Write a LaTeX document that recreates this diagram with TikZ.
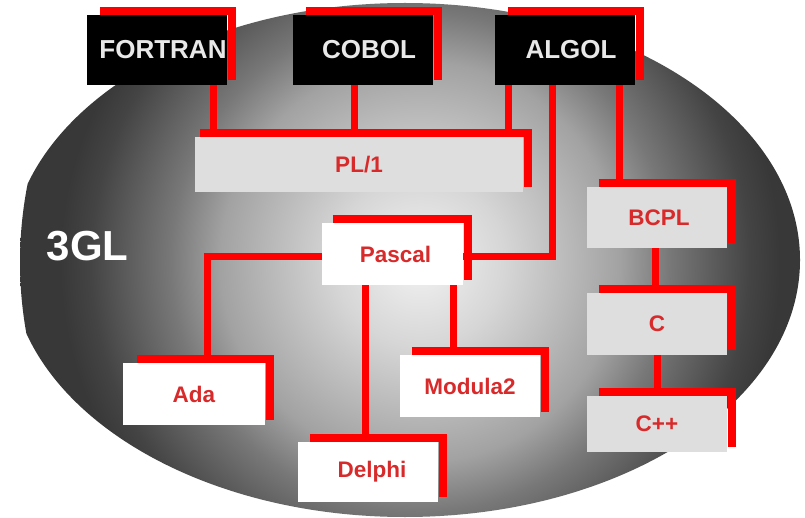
\documentclass[tikz,border=0pt]{standalone}
\usepackage{fontspec}
\setmainfont{Liberation Sans}
\definecolor{s0}{HTML}{F2F2F2}
\definecolor{s1}{HTML}{D6D6D6}
\definecolor{s2}{HTML}{A2A2A2}
\definecolor{s3}{HTML}{787878}
\definecolor{s4}{HTML}{444444}
\definecolor{s5}{HTML}{383838}
\definecolor{txtred}{HTML}{D82A2A}
\definecolor{toptxt}{HTML}{E8E8E8}
\definecolor{boxgray}{HTML}{DEDEDE}
\definecolor{linered}{HTML}{FF0000}
\pgfdeclareradialshading{ballshade}{\pgfpointorigin}{color(0bp)=(s0); color(5.3bp)=(s1); color(12.5bp)=(s2); color(15.6bp)=(s3); color(20.6bp)=(s4); color(22.5bp)=(s5); color(25bp)=(s5); color(50bp)=(s5)}
\pgfdeclarelayer{bg}
\pgfdeclarelayer{mid}
\pgfsetlayers{bg,mid,main}
\tikzset{
  boxbase/.style={rectangle, inner sep=0pt, text=txtred, font=\bfseries\fontsize{22.5}{24}\selectfont},
  topbox/.style={boxbase, fill=black, text=toptxt, minimum width=140pt, minimum height=70pt, font=\bfseries\fontsize{26}{28}\selectfont},
  graybox/.style={boxbase, fill=boxgray},
  whitebox/.style={boxbase, fill=white},
  link/.style={draw=linered, line width=7pt},
  rframe/.style={draw=linered, line width=8pt},
}
\newcommand\redframe[2]{\draw[rframe] ([xshift=#2,yshift=4pt]#1.north west) -- ([xshift=5pt,yshift=4pt]#1.north east) -- ([xshift=5pt,yshift=5pt]#1.south east);}
\begin{document}
\begin{tikzpicture}[x=1pt,y=-1pt]
\useasboundingbox (0,0) rectangle (805,518);
\begin{pgfonlayer}{bg}
  \fill[white] (0,0) rectangle (805,518);
  \begin{scope}
    \clip (405,260) ellipse [x radius=395pt, y radius=257pt];
    \shade[shading=ballshade] (420,262) circle [radius=400pt];
  \end{scope}
\end{pgfonlayer}

% nodes
\node[topbox] (fortran) at (157,50) {\hspace*{12pt}FORTRAN};
\node[topbox] (cobol) at (363,50) {\hspace*{12pt}COBOL};
\node[topbox] (algol) at (565,50) {\hspace*{12pt}ALGOL};
\node[graybox, minimum width=328pt, minimum height=55pt] (pl1) at (359,164.5) {PL/1};
\node[whitebox, minimum width=141pt, minimum height=62pt] (pascal) at (392.5,254) {\hspace*{6pt}Pascal};
\node[graybox, minimum width=140pt, minimum height=61pt] (bcpl) at (657,217.5) {\hspace*{4pt}BCPL};
\node[graybox, minimum width=140pt, minimum height=62pt] (c) at (657,324) {C};
\node[graybox, minimum width=140pt, minimum height=56pt] (cpp) at (657,424) {C++};
\node[whitebox, minimum width=142pt, minimum height=62pt] (ada) at (194,394) {Ada};
\node[whitebox, minimum width=140pt, minimum height=60pt] (delphi) at (368,472) {\hspace*{8pt}Delphi};
\node[whitebox, minimum width=140pt, minimum height=62pt] (modula) at (470,386) {Modula2};
\node[text=white, font=\bfseries\fontsize{42}{44}\selectfont, inner sep=0pt] (gl) at (87.5,246) {3GL};

\begin{pgfonlayer}{mid}
  \redframe{fortran}{13pt}
  \redframe{cobol}{13pt}
  \redframe{algol}{13pt}
  \redframe{pl1}{5pt}
  \redframe{pascal}{11pt}
  \redframe{bcpl}{12pt}
  \redframe{c}{12pt}
  \redframe{cpp}{12pt}
  \redframe{ada}{14pt}
  \redframe{delphi}{12pt}
  \redframe{modula}{12pt}
  % connectors
  \draw[link] ([xshift=56pt]fortran.south) |- ([yshift=4pt]pl1.north);
  \draw[link] ([xshift=-9pt]cobol.south) |- ([yshift=4pt]pl1.north);
  \draw[link] ([xshift=-57pt]algol.south) |- ([yshift=4pt]pl1.north);
  \draw[link] ([xshift=-13pt]algol.south) |- ([yshift=-3pt]pascal.east);
  \draw[link] ([xshift=54pt]algol.south) |- ([yshift=4pt]bcpl.north);
  \draw[link] ([yshift=-3pt]pascal.west) -| ([xshift=13pt,yshift=4pt]ada.north);
  \draw[link] ([xshift=-27.5pt]pascal.south) |- ([yshift=4pt]delphi.north);
  \draw[link] ([xshift=60.5pt]pascal.south) |- ([yshift=4pt]modula.north);
  \draw[link] ([xshift=-2pt]bcpl.south) |- ([yshift=4pt]c.north);
  \draw[link] (c.south) -- ([yshift=4pt]cpp.north);
\end{pgfonlayer}
\end{tikzpicture}
\end{document}
